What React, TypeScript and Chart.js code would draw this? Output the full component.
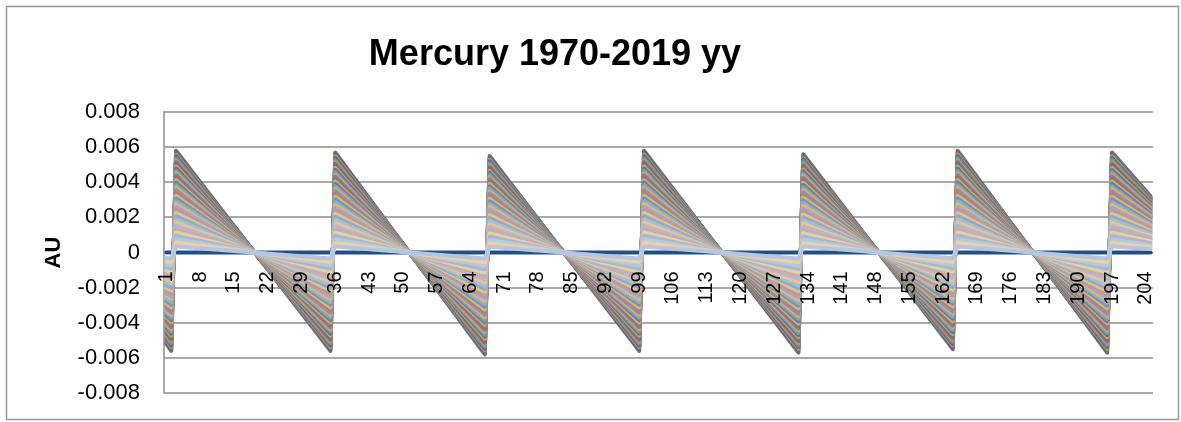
import React, { useEffect, useRef } from "react";
import { Chart, registerables } from "chart.js";

Chart.register(...registerables);

// ---- text ----
const chartTitle = "Mercury 1970-2019 yy";
const yAxisTitle = "AU";

// ---- axes ----
const pointCount = 205; // categories 1..205
const xTickLabels = [
  1, 8, 15, 22, 29, 36, 43, 50, 57, 64, 71, 78, 85, 92, 99, 106, 113, 120,
  127, 134, 141, 148, 155, 162, 169, 176, 183, 190, 197, 204,
];
const yMin = -0.008;
const yMax = 0.008;
const yStep = 0.002;

// ---- data ----
// category positions where the saw-tooth changes direction
const breakX = [1, 2, 3, 35, 36, 67, 68, 99, 100, 132, 133, 164, 165, 196, 197, 205];
// values of the outermost (largest) series at those categories
const outerY = [
  -0.0052, -0.0056, 0.0058, -0.0056, 0.0057, -0.0058, 0.0055, -0.0056,
  0.0058, -0.0057, 0.0056, -0.0055, 0.0058, -0.0057, 0.0057, 0.0032,
];
// the flat reference series (dark blue, along zero)
const referenceY = [0, 0, 0, 0, 0, 0, 0, 0, 0, 0, 0, 0, 0, 0, 0, 0];
// relative size of each of the other series, largest to smallest
const seriesScale = [
  1.0, 0.979, 0.962, 0.944, 0.925, 0.906, 0.886, 0.866, 0.846, 0.825, 0.803,
  0.781, 0.758, 0.735, 0.711, 0.687, 0.662, 0.637, 0.611, 0.585, 0.558, 0.531,
  0.503, 0.475, 0.446, 0.417, 0.387, 0.357, 0.326, 0.294, 0.262, 0.23, 0.197,
  0.164, 0.13, 0.095, 0.06,
];

// ---- styles ----
const basePalette = [
  [79, 129, 189],
  [192, 80, 77],
  [155, 187, 89],
  [128, 100, 162],
  [75, 172, 198],
  [247, 150, 70],
];
const cycleTint = [-0.08, 0, 0.08, 0.2, 0.36, 0.48, 0.56];
const referenceColor = "#254f82";
const gridColor = "#a9a9a9";
const FONT = "'Liberation Sans', Arial, sans-serif";

function seriesColor(i: number): string {
  const c = basePalette[i % basePalette.length];
  const t = cycleTint[Math.min(Math.floor(i / basePalette.length), cycleTint.length - 1)];
  const ch = c.map((v) =>
    Math.round(t >= 0 ? v + (255 - v) * t : v * (1 + t))
  );
  return `rgb(${ch[0]},${ch[1]},${ch[2]})`;
}

const frameAndTitle = {
  id: "frameAndTitle",
  beforeDraw(chart: any) {
    const { ctx, width, height } = chart;
    ctx.save();
    ctx.fillStyle = "#ffffff";
    ctx.fillRect(0, 0, width, height);
    ctx.restore();
  },
  afterDraw(chart: any) {
    const { ctx } = chart;
    ctx.save();
    ctx.strokeStyle = "#979797";
    ctx.lineWidth = 1.5;
    ctx.strokeRect(6.5, 6.5, 1172, 413);
    ctx.fillStyle = "#000000";
    ctx.font = `bold 36px ${FONT}`;
    ctx.textAlign = "center";
    ctx.textBaseline = "middle";
    ctx.fillText(chartTitle, 555, 55);
    ctx.restore();
  },
};

export default function App() {
  const canvasRef = useRef<HTMLCanvasElement | null>(null);

  useEffect(() => {
    if (!canvasRef.current) return;

    const drawList: any[] = [];
    drawList.push({
      label: "reference",
      data: breakX.map((x, i) => ({ x, y: referenceY[i] })),
      borderColor: referenceColor,
    });
    seriesScale.forEach((s, k) => {
      drawList.push({
        label: `series ${k + 1}`,
        data: breakX.map((x, i) => ({ x, y: outerY[i] * s })),
        borderColor: seriesColor(k),
      });
    });
    const n = drawList.length;
    const datasets = drawList.map((d, k) => ({
      ...d,
      order: n - k,
      fill: false,
      pointRadius: 0,
      borderWidth: 4,
      tension: 0,
      borderJoinStyle: "round",
      borderCapStyle: "round",
    }));

    const chart = new Chart(canvasRef.current, {
      type: "line",
      data: { datasets },
      plugins: [frameAndTitle],
      options: {
        animation: false,
        responsive: false,
        maintainAspectRatio: false,
        devicePixelRatio: 1,
        parsing: false as any,
        normalized: true,
        layout: { padding: { left: 0, right: 28, top: 112, bottom: 29 } },
        plugins: {
          legend: { display: false },
          tooltip: { enabled: false },
          title: { display: false },
        },
        scales: {
          x: {
            type: "linear",
            min: 0.5,
            max: pointCount + 0.5,
            position: { y: 0 } as any,
            grid: { display: false, drawTicks: false },
            border: { display: false },
            ticks: {
              autoSkip: false,
              minRotation: 90,
              maxRotation: 90,
              padding: 19,
              color: "#000000",
              font: { family: FONT, size: 20 },
              z: 2,
              callback: (v: any) => String(v),
            },
            afterBuildTicks: (scale: any) => {
              scale.ticks = xTickLabels.map((v) => ({ value: v }));
            },
            afterFit: (scale: any) => {
              scale.paddingLeft = 0;
              scale.paddingRight = 0;
              scale.paddingTop = 0;
              scale.paddingBottom = 0;
            },
          },
          y: {
            type: "linear",
            min: yMin,
            max: yMax,
            ticks: {
              stepSize: yStep,
              padding: 24,
              color: "#000000",
              font: { family: FONT, size: 22 },
              callback: (v: any) => {
                const r = Math.round(Number(v) * 1000) / 1000;
                return r === 0 ? "0" : r.toFixed(3);
              },
            },
            grid: { color: gridColor, lineWidth: 2, drawTicks: false },
            border: { display: true, color: gridColor, width: 2 },
            title: {
              display: true,
              text: yAxisTitle,
              color: "#000000",
              font: { family: FONT, size: 22, weight: "bold" },
              padding: { top: 41, bottom: 0 },
            },
            afterFit: (scale: any) => {
              scale.width = 164;
              scale.paddingTop = 0;
              scale.paddingBottom = 0;
            },
          },
        },
      },
    });

    return () => chart.destroy();
  }, []);

  return (
    <div
      style={{
        position: "absolute",
        left: 0,
        top: 0,
        width: 1181,
        height: 422,
        background: "#ffffff",
      }}
    >
      <canvas
        ref={canvasRef}
        width={1181}
        height={422}
        style={{ display: "block", width: 1181, height: 422 }}
      />
    </div>
  );
}
